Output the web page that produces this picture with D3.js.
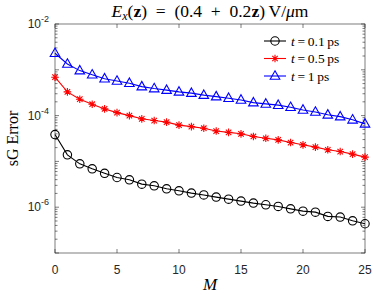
<!DOCTYPE html>
<html>
<head>
<meta charset="utf-8">
<script src="https://cdn.jsdelivr.net/npm/d3@7"></script>
<style>
  body { margin: 0; background: #fff; }
  svg { display: block; }
</style>
</head>
<body>
<div id="chart"></div>
<script>
// values (sG error vs M)
const mValues = d3.range(0, 26);
const errT01 = [3.85e-5, 1.39e-5, 8.85e-6, 6.9e-6, 5.5e-6, 4.45e-6, 3.96e-6, 3.19e-6, 2.93e-6, 2.52e-6,
  2.28e-6, 2.03e-6, 1.85e-6, 1.66e-6, 1.50e-6, 1.36e-6, 1.23e-6, 1.13e-6, 1.04e-6, 9.2e-7,
  8.2e-7, 7.8e-7, 6.3e-7, 6.1e-7, 5.05e-7, 4.35e-7];
const errT05 = [6.9e-4, 3.3e-4, 2.28e-4, 1.77e-4, 1.40e-4, 1.16e-4, 1.0e-4, 8.5e-5, 7.8e-5, 7.2e-5,
  6.2e-5, 5.75e-5, 5.3e-5, 4.6e-5, 4.3e-5, 4.0e-5, 3.5e-5, 3.2e-5, 2.95e-5, 2.58e-5,
  2.3e-5, 2.05e-5, 1.79e-5, 1.64e-5, 1.44e-5, 1.24e-5];
const errT1 = [2.3e-3, 1.34e-3, 9.6e-4, 7.8e-4, 6.4e-4, 5.7e-4, 5.1e-4, 4.3e-4, 3.9e-4, 3.6e-4,
  3.3e-4, 3.1e-4, 2.8e-4, 2.6e-4, 2.4e-4, 2.2e-4, 1.92e-4, 1.80e-4, 1.69e-4, 1.52e-4,
  1.33e-4, 1.20e-4, 1.04e-4, 9.5e-5, 8.1e-5, 6.6e-5];
const seriesNames = ["0.1", "0.5", "1"];
const xTicks = [0, 5, 10, 15, 20, 25];
const yTickExps = [-2, -4, -6];

const W = 374, H = 295;
const margin = {top: 24, right: 9, bottom: 42, left: 55};
const width = W - margin.left - margin.right;
const height = H - margin.top - margin.bottom;
const axisColor = "#262626";
const serif = "'Liberation Serif', 'DejaVu Serif', serif";
const sans = "'Liberation Sans', Arial, sans-serif";

const svg = d3.select("#chart").append("svg")
  .attr("width", W).attr("height", H);

const x = d3.scaleLinear().domain([0, 25]).range([0, width]);
const y = d3.scaleLog().domain([1e-7, 1e-2]).range([height, 0]);

const g = svg.append("g").attr("transform", `translate(${margin.left},${margin.top})`);

// minor + major ticks on y (both sides, inward)
const minorVals = [];
for (let e = -7; e < -2; e++) {
  for (let k = 2; k <= 9; k++) minorVals.push(k * Math.pow(10, e));
}
const majorVals = d3.range(-7, -1).map(e => Math.pow(10, e));
const tickG = g.append("g").attr("stroke", axisColor).attr("stroke-width", 0.6);
minorVals.forEach(v => {
  tickG.append("line").attr("x1", 0).attr("x2", 2.5).attr("y1", y(v)).attr("y2", y(v));
  tickG.append("line").attr("x1", width).attr("x2", width - 2.5).attr("y1", y(v)).attr("y2", y(v));
});
majorVals.forEach(v => {
  tickG.append("line").attr("x1", 0).attr("x2", 4).attr("y1", y(v)).attr("y2", y(v));
  tickG.append("line").attr("x1", width).attr("x2", width - 4).attr("y1", y(v)).attr("y2", y(v));
});
xTicks.forEach(v => {
  tickG.append("line").attr("x1", x(v)).attr("x2", x(v)).attr("y1", height).attr("y2", height - 4);
  tickG.append("line").attr("x1", x(v)).attr("x2", x(v)).attr("y1", 0).attr("y2", 4);
});

// axis box
g.append("rect").attr("x", 0).attr("y", 0).attr("width", width).attr("height", height)
  .attr("fill", "none").attr("stroke", axisColor).attr("stroke-width", 0.6);

// x tick labels
g.selectAll(".xl").data(xTicks).enter().append("text")
  .attr("x", d => x(d)).attr("y", height + 21)
  .attr("text-anchor", "middle")
  .attr("font-family", sans).attr("font-size", 12).attr("fill", axisColor)
  .text(d => d);

// y tick labels 10^e
yTickExps.forEach(e => {
  const t = g.append("text")
    .attr("x", -6).attr("y", y(Math.pow(10, e)) + 4)
    .attr("text-anchor", "end")
    .attr("font-family", sans).attr("font-size", 12).attr("fill", axisColor);
  t.append("tspan").text("10");
  t.append("tspan").attr("dy", -6).attr("font-size", 9).text(String(e));
});

// lines
const line = d3.line().x((d, i) => x(mValues[i])).y(d => y(d));
const series = [
  {data: errT01, color: "#000000", marker: "circle"},
  {data: errT05, color: "#ff0000", marker: "star"},
  {data: errT1, color: "#0000ff", marker: "triangle"}
];

function drawMarker(sel, type, color) {
  if (type === "circle") {
    sel.append("circle").attr("r", 4.2).attr("fill", "none")
      .attr("stroke", color).attr("stroke-width", 1.1);
  } else if (type === "star") {
    const r = 3.8, d = r * 0.72;
    sel.append("path")
      .attr("d", `M${-r},0L${r},0M0,${-r}L0,${r}M${-d},${-d}L${d},${d}M${-d},${d}L${d},${-d}`)
      .attr("stroke", color).attr("stroke-width", 1.1).attr("fill", "none");
  } else {
    sel.append("path").attr("d", "M0,-5.2L4.8,3.3L-4.8,3.3Z")
      .attr("fill", "none").attr("stroke", color).attr("stroke-width", 1.1);
  }
}

series.forEach(s => {
  g.append("path").datum(s.data).attr("d", line)
    .attr("fill", "none").attr("stroke", s.color).attr("stroke-width", 1.1);
  g.append("g").selectAll("g").data(s.data).enter().append("g")
    .attr("transform", (d, i) => `translate(${x(mValues[i])},${y(d)})`)
    .each(function() { drawMarker(d3.select(this), s.marker, s.color); });
});

// legend
const leg = g.append("g").attr("transform", `translate(${209},${17})`);
series.forEach((s, i) => {
  const row = leg.append("g").attr("transform", `translate(0,${i * 17.5})`);
  row.append("line").attr("x1", 0).attr("x2", 22).attr("y1", 0).attr("y2", 0)
    .attr("stroke", s.color).attr("stroke-width", 1.1);
  drawMarker(row.append("g").attr("transform", "translate(11,0)"), s.marker, s.color);
  const t = row.append("text").attr("x", 27).attr("y", 4.5)
    .attr("font-family", serif).attr("font-size", 13.5).attr("fill", "#000");
  t.append("tspan").attr("font-style", "italic").text("t");
  t.append("tspan").text("\u2009=\u2009" + seriesNames[i] + "\u2009ps");
});

// title
const title = svg.append("text")
  .attr("x", margin.left + width / 2).attr("y", 17)
  .attr("text-anchor", "middle")
  .attr("font-family", serif).attr("font-size", 17.5).attr("fill", "#000");
title.append("tspan").attr("font-style", "italic").text("E");
title.append("tspan").attr("font-style", "italic").attr("font-size", 12).attr("dy", 3).text("x");
title.append("tspan").attr("dy", -3).text("(");
title.append("tspan").attr("font-weight", "bold").text("z");
title.append("tspan").text(")\u2002=\u2002(0.4\u2002+\u20020.2");
title.append("tspan").attr("font-weight", "bold").text("z");
title.append("tspan").text(")\u2009V/");
title.append("tspan").attr("font-style", "italic").text("μ");
title.append("tspan").text("m");

// axis labels
svg.append("text")
  .attr("x", margin.left + width / 2).attr("y", 290)
  .attr("text-anchor", "middle")
  .attr("font-family", serif).attr("font-style", "italic").attr("font-size", 17)
  .text("M");
svg.append("text")
  .attr("transform", `translate(18,${margin.top + height / 2}) rotate(-90)`)
  .attr("text-anchor", "middle")
  .attr("font-family", serif).attr("font-size", 16)
  .text("sG Error");
</script>
</body>
</html>
